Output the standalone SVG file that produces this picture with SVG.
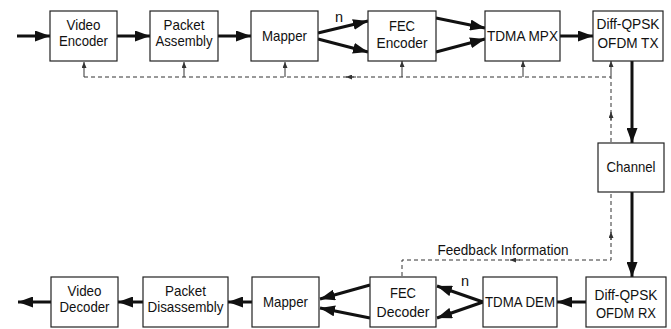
<svg xmlns="http://www.w3.org/2000/svg" width="671" height="329" viewBox="0 0 671 329">
<style>
.box{fill:#fff;stroke:#222;stroke-width:1.2}
.t{font-family:"Liberation Sans",Arial,sans-serif;font-size:14.5px;fill:#111;text-anchor:middle}
.thick{stroke:#111;stroke-width:3;fill:none;marker-end:url(#ah)}
.dash{stroke:#333;stroke-width:1;fill:none;stroke-dasharray:4,3}
.sm{stroke:#333;stroke-width:1;fill:none;marker-end:url(#sa)}
</style>
<defs>
<marker id="ah" markerUnits="userSpaceOnUse" markerWidth="15" markerHeight="11" refX="15" refY="5.5" orient="auto"><path d="M0,0 L15,5.5 L0,11 z" fill="#111"/></marker>
<marker id="sa" markerUnits="userSpaceOnUse" markerWidth="6" markerHeight="5" refX="6" refY="2.5" orient="auto"><path d="M0,0 L6,2.5 L0,5 z" fill="#333"/></marker>
</defs>
<g id="connectors">
<path class="dash" d="M84,77 H611 V260 H402 V277"/>
<path class="sm" d="M84,77 V62"/>
<path class="sm" d="M184,77 V62"/>
<path class="sm" d="M285,77 V62"/>
<path class="sm" d="M402,77 V61"/>
<path class="sm" d="M523,77 V61"/>
<path class="sm" d="M611,77 V61"/>
<path class="sm" d="M356,77 H346"/>
<path class="sm" d="M611,120 V112"/>
<path class="sm" d="M611,240 V232"/>
<path class="sm" d="M520,260 H510"/>
<path class="thick" d="M17,36 H50"/>
<path class="thick" d="M117,36 H150"/>
<path class="thick" d="M218,36 H251"/>
<path class="thick" d="M318,33 L368,21"/>
<path class="thick" d="M318,39 L368,52"/>
<path class="thick" d="M436,18 L485,28"/>
<path class="thick" d="M436,52 L485,39"/>
<path class="thick" d="M560,36 H593"/>
<path class="thick" d="M632,61 V143"/>
<path class="thick" d="M632,192 V277"/>
<path class="thick" d="M586,302 H557"/>
<path class="thick" d="M483,302 L437,286"/>
<path class="thick" d="M483,302 L437,318"/>
<path class="thick" d="M370,285 L320,299"/>
<path class="thick" d="M370,318 L320,308"/>
<path class="thick" d="M252,302 H228"/>
<path class="thick" d="M143,302 H118"/>
<path class="thick" d="M51,302 H18"/>
</g>
<text class="t" x="339" y="22" font-size="14">n</text>
<text class="t" x="465" y="286" font-size="14">n</text>
<text class="t" x="503" y="255" textLength="131" lengthAdjust="spacingAndGlyphs">Feedback Information</text>
<g id="video-encoder"><rect class="box" x="50" y="11" width="67" height="50"/><text class="t" x="83.5" y="30" textLength="34" lengthAdjust="spacingAndGlyphs">Video</text><text class="t" x="83.5" y="46" textLength="49" lengthAdjust="spacingAndGlyphs">Encoder</text></g>
<g id="packet-assembly"><rect class="box" x="150" y="11" width="68" height="50"/><text class="t" x="184" y="30" textLength="41" lengthAdjust="spacingAndGlyphs">Packet</text><text class="t" x="184" y="46" textLength="57" lengthAdjust="spacingAndGlyphs">Assembly</text></g>
<g id="mapper-tx"><rect class="box" x="251" y="11" width="67" height="50"/><text class="t" x="284.5" y="41" textLength="45" lengthAdjust="spacingAndGlyphs">Mapper</text></g>
<g id="fec-encoder"><rect class="box" x="368" y="11" width="68" height="50"/><text class="t" x="402" y="31" textLength="26" lengthAdjust="spacingAndGlyphs">FEC</text><text class="t" x="402" y="48" textLength="51" lengthAdjust="spacingAndGlyphs">Encoder</text></g>
<g id="tdma-mpx"><rect class="box" x="485" y="11" width="75" height="50"/><text class="t" x="522.5" y="41" textLength="71" lengthAdjust="spacingAndGlyphs">TDMA MPX</text></g>
<g id="ofdm-tx"><rect class="box" x="593" y="11" width="70" height="50"/><text class="t" x="628" y="29" textLength="63" lengthAdjust="spacingAndGlyphs">Diff-QPSK</text><text class="t" x="628" y="48" textLength="61" lengthAdjust="spacingAndGlyphs">OFDM TX</text></g>
<g id="channel"><rect class="box" x="598" y="143" width="66" height="49"/><text class="t" x="631" y="172" textLength="49" lengthAdjust="spacingAndGlyphs">Channel</text></g>
<g id="video-decoder"><rect class="box" x="51" y="277" width="67" height="50"/><text class="t" x="84.5" y="296" textLength="34" lengthAdjust="spacingAndGlyphs">Video</text><text class="t" x="84.5" y="312" textLength="50" lengthAdjust="spacingAndGlyphs">Decoder</text></g>
<g id="packet-disassembly"><rect class="box" x="143" y="277" width="85" height="50"/><text class="t" x="185.5" y="296" textLength="41" lengthAdjust="spacingAndGlyphs">Packet</text><text class="t" x="185.5" y="312" textLength="76" lengthAdjust="spacingAndGlyphs">Disassembly</text></g>
<g id="mapper-rx"><rect class="box" x="252" y="277" width="67" height="50"/><text class="t" x="285.5" y="307" textLength="45" lengthAdjust="spacingAndGlyphs">Mapper</text></g>
<g id="fec-decoder"><rect class="box" x="370" y="277" width="66" height="50"/><text class="t" x="403" y="298" textLength="26" lengthAdjust="spacingAndGlyphs">FEC</text><text class="t" x="403" y="317" textLength="53" lengthAdjust="spacingAndGlyphs">Decoder</text></g>
<g id="tdma-dem"><rect class="box" x="483" y="277" width="74" height="50"/><text class="t" x="520" y="307" textLength="70" lengthAdjust="spacingAndGlyphs">TDMA DEM</text></g>
<g id="ofdm-rx"><rect class="box" x="586" y="277" width="80" height="50"/><text class="t" x="626" y="300" textLength="63" lengthAdjust="spacingAndGlyphs">Diff-QPSK</text><text class="t" x="626" y="318" textLength="60" lengthAdjust="spacingAndGlyphs">OFDM RX</text></g>
</svg>
